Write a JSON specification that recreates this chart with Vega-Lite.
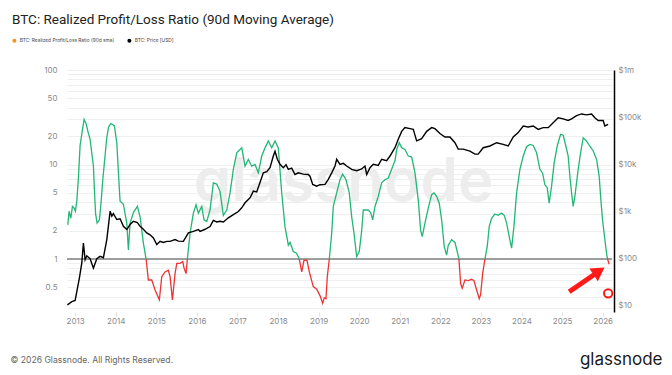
{
"$schema": "https://vega.github.io/schema/vega-lite/v6.json",
"width": 545, "height": 242,
"autosize": "none",
"padding": {"left": 67, "top": 70, "right": 60, "bottom": 63},
"background": "white",
"config": {"view": {"stroke": null}, "font": "Inter"},
"title": {"text": "BTC: Realized Profit/Loss Ratio (90d Moving Average)", "anchor": "start", "frame": "group", "dx": -55, "dy": 15, "offset": 16, "baseline": "alphabetic", "fontSize": 13.5, "fontWeight": "normal", "color": "#222222", "font": "Roboto"},
"datasets": {
"ratio": [
{"t":2012.820,"r":2.3,"seg":1,"zone":"above"},{"t":2012.852,"r":3.2,"seg":1,"zone":"above"},{"t":2012.894,"r":2.7,"seg":1,"zone":"above"},{"t":2012.934,"r":3.6,"seg":1,"zone":"above"},{"t":2012.975,"r":3.46,"seg":1,"zone":"above"},{"t":2013.007,"r":3.2,"seg":1,"zone":"above"},{"t":2013.042,"r":4.1,"seg":1,"zone":"above"},{"t":2013.081,"r":7.2,"seg":1,"zone":"above"},{"t":2013.123,"r":16,"seg":1,"zone":"above"},{"t":2013.172,"r":22,"seg":1,"zone":"above"},{"t":2013.222,"r":30,"seg":1,"zone":"above"},{"t":2013.271,"r":27,"seg":1,"zone":"above"},{"t":2013.320,"r":22,"seg":1,"zone":"above"},{"t":2013.369,"r":18.5,"seg":1,"zone":"above"},{"t":2013.451,"r":9.6,"seg":1,"zone":"above"},{"t":2013.475,"r":5.4,"seg":1,"zone":"above"},{"t":2013.505,"r":3.0,"seg":1,"zone":"above"},{"t":2013.542,"r":2.4,"seg":1,"zone":"above"},{"t":2013.599,"r":2.6,"seg":1,"zone":"above"},{"t":2013.640,"r":4.0,"seg":1,"zone":"above"},{"t":2013.682,"r":6.9,"seg":1,"zone":"above"},{"t":2013.781,"r":19.4,"seg":1,"zone":"above"},{"t":2013.825,"r":25,"seg":1,"zone":"above"},{"t":2013.879,"r":27.1,"seg":1,"zone":"above"},{"t":2013.924,"r":26.5,"seg":1,"zone":"above"},{"t":2013.968,"r":25.6,"seg":1,"zone":"above"},{"t":2014.027,"r":17,"seg":1,"zone":"above"},{"t":2014.091,"r":5.4,"seg":1,"zone":"above"},{"t":2014.108,"r":4.1,"seg":1,"zone":"above"},{"t":2014.190,"r":3.8,"seg":1,"zone":"above"},{"t":2014.273,"r":2.4,"seg":1,"zone":"above"},{"t":2014.313,"r":1.25,"seg":1,"zone":"above"},{"t":2014.355,"r":2.4,"seg":1,"zone":"above"},{"t":2014.436,"r":3.1,"seg":1,"zone":"above"},{"t":2014.534,"r":3.6,"seg":1,"zone":"above"},{"t":2014.601,"r":2.8,"seg":1,"zone":"above"},{"t":2014.682,"r":1.47,"seg":1,"zone":"above"},{"t":2014.749,"r":1.0,"seg":1,"zone":"above"},
{"t":2014.749,"r":1.0,"seg":2,"zone":"below"},{"t":2014.805,"r":0.6,"seg":2,"zone":"below"},{"t":2014.889,"r":0.6,"seg":2,"zone":"below"},{"t":2014.970,"r":0.47,"seg":2,"zone":"below"},{"t":2015.076,"r":0.37,"seg":2,"zone":"below"},{"t":2015.135,"r":0.65,"seg":2,"zone":"below"},{"t":2015.217,"r":0.73,"seg":2,"zone":"below"},{"t":2015.298,"r":0.76,"seg":2,"zone":"below"},{"t":2015.340,"r":0.65,"seg":2,"zone":"below"},{"t":2015.397,"r":0.37,"seg":2,"zone":"below"},{"t":2015.463,"r":0.7,"seg":2,"zone":"below"},{"t":2015.505,"r":0.9,"seg":2,"zone":"below"},{"t":2015.586,"r":0.9,"seg":2,"zone":"below"},{"t":2015.653,"r":0.94,"seg":2,"zone":"below"},{"t":2015.685,"r":0.8,"seg":2,"zone":"below"},{"t":2015.734,"r":0.7,"seg":2,"zone":"below"},{"t":2015.766,"r":1.0,"seg":2,"zone":"below"},
{"t":2015.766,"r":1.0,"seg":3,"zone":"above"},{"t":2015.833,"r":1.88,"seg":3,"zone":"above"},{"t":2015.914,"r":3.06,"seg":3,"zone":"above"},{"t":2015.980,"r":3.75,"seg":3,"zone":"above"},{"t":2016.037,"r":3.06,"seg":3,"zone":"above"},{"t":2016.121,"r":3.6,"seg":3,"zone":"above"},{"t":2016.177,"r":2.6,"seg":3,"zone":"above"},{"t":2016.244,"r":2.5,"seg":3,"zone":"above"},{"t":2016.325,"r":3.3,"seg":3,"zone":"above"},{"t":2016.406,"r":6.4,"seg":3,"zone":"above"},{"t":2016.490,"r":6.2,"seg":3,"zone":"above"},{"t":2016.571,"r":5.2,"seg":3,"zone":"above"},{"t":2016.653,"r":2.9,"seg":3,"zone":"above"},{"t":2016.736,"r":3.3,"seg":3,"zone":"above"},{"t":2016.818,"r":5,"seg":3,"zone":"above"},{"t":2016.899,"r":8.9,"seg":3,"zone":"above"},{"t":2016.983,"r":13.3,"seg":3,"zone":"above"},{"t":2017.106,"r":15,"seg":3,"zone":"above"},{"t":2017.187,"r":9.6,"seg":3,"zone":"above"},{"t":2017.268,"r":11.3,"seg":3,"zone":"above"},{"t":2017.352,"r":9.6,"seg":3,"zone":"above"},{"t":2017.433,"r":10,"seg":3,"zone":"above"},{"t":2017.515,"r":8.2,"seg":3,"zone":"above"},{"t":2017.599,"r":12.3,"seg":3,"zone":"above"},{"t":2017.680,"r":15,"seg":3,"zone":"above"},{"t":2017.761,"r":17.7,"seg":3,"zone":"above"},{"t":2017.845,"r":15,"seg":3,"zone":"above"},{"t":2017.926,"r":17.7,"seg":3,"zone":"above"},{"t":2018.007,"r":15,"seg":3,"zone":"above"},{"t":2018.091,"r":5,"seg":3,"zone":"above"},{"t":2018.172,"r":2.2,"seg":3,"zone":"above"},{"t":2018.254,"r":1.4,"seg":3,"zone":"above"},{"t":2018.296,"r":1.5,"seg":3,"zone":"above"},{"t":2018.377,"r":1.2,"seg":3,"zone":"above"},{"t":2018.456,"r":1.15,"seg":3,"zone":"above"},{"t":2018.525,"r":1.0,"seg":3,"zone":"above"},
{"t":2018.525,"r":1.0,"seg":4,"zone":"below"},{"t":2018.584,"r":0.73,"seg":4,"zone":"below"},{"t":2018.640,"r":0.97,"seg":4,"zone":"below"},{"t":2018.714,"r":0.97,"seg":4,"zone":"below"},{"t":2018.771,"r":0.73,"seg":4,"zone":"below"},{"t":2018.869,"r":0.51,"seg":4,"zone":"below"},{"t":2018.953,"r":0.48,"seg":4,"zone":"below"},{"t":2019.034,"r":0.41,"seg":4,"zone":"below"},{"t":2019.101,"r":0.34,"seg":4,"zone":"below"},{"t":2019.140,"r":0.39,"seg":4,"zone":"below"},{"t":2019.182,"r":0.38,"seg":4,"zone":"below"},{"t":2019.214,"r":0.65,"seg":4,"zone":"below"},{"t":2019.264,"r":1.0,"seg":4,"zone":"below"},
{"t":2019.264,"r":1.0,"seg":5,"zone":"above"},{"t":2019.323,"r":1.88,"seg":5,"zone":"above"},{"t":2019.362,"r":3.6,"seg":5,"zone":"above"},{"t":2019.446,"r":5,"seg":5,"zone":"above"},{"t":2019.527,"r":6.9,"seg":5,"zone":"above"},{"t":2019.594,"r":7.9,"seg":5,"zone":"above"},{"t":2019.675,"r":6.9,"seg":5,"zone":"above"},{"t":2019.756,"r":5,"seg":5,"zone":"above"},{"t":2019.815,"r":2.8,"seg":5,"zone":"above"},{"t":2019.872,"r":1.88,"seg":5,"zone":"above"},{"t":2019.938,"r":1.06,"seg":5,"zone":"above"},{"t":2020.002,"r":1.2,"seg":5,"zone":"above"},{"t":2020.062,"r":2.0,"seg":5,"zone":"above"},{"t":2020.101,"r":3.3,"seg":5,"zone":"above"},{"t":2020.224,"r":3.3,"seg":5,"zone":"above"},{"t":2020.283,"r":3.1,"seg":5,"zone":"above"},{"t":2020.333,"r":2.6,"seg":5,"zone":"above"},{"t":2020.389,"r":3.6,"seg":5,"zone":"above"},{"t":2020.470,"r":4.6,"seg":5,"zone":"above"},{"t":2020.554,"r":6.4,"seg":5,"zone":"above"},{"t":2020.635,"r":6.9,"seg":5,"zone":"above"},{"t":2020.717,"r":7.2,"seg":5,"zone":"above"},{"t":2020.800,"r":8.9,"seg":5,"zone":"above"},{"t":2020.882,"r":11,"seg":5,"zone":"above"},{"t":2020.924,"r":14.4,"seg":5,"zone":"above"},{"t":2020.988,"r":17,"seg":5,"zone":"above"},{"t":2021.047,"r":15,"seg":5,"zone":"above"},{"t":2021.128,"r":14.4,"seg":5,"zone":"above"},{"t":2021.209,"r":12.3,"seg":5,"zone":"above"},{"t":2021.293,"r":12,"seg":5,"zone":"above"},{"t":2021.374,"r":8.2,"seg":5,"zone":"above"},{"t":2021.456,"r":4.2,"seg":5,"zone":"above"},{"t":2021.515,"r":2.0,"seg":5,"zone":"above"},{"t":2021.554,"r":1.73,"seg":5,"zone":"above"},{"t":2021.621,"r":2.4,"seg":5,"zone":"above"},{"t":2021.702,"r":3.46,"seg":5,"zone":"above"},{"t":2021.786,"r":4.8,"seg":5,"zone":"above"},{"t":2021.842,"r":5.0,"seg":5,"zone":"above"},{"t":2021.909,"r":4.6,"seg":5,"zone":"above"},{"t":2021.973,"r":3.9,"seg":5,"zone":"above"},{"t":2022.032,"r":2.6,"seg":5,"zone":"above"},{"t":2022.096,"r":1.35,"seg":5,"zone":"above"},{"t":2022.155,"r":1.1,"seg":5,"zone":"above"},{"t":2022.195,"r":1.4,"seg":5,"zone":"above"},{"t":2022.278,"r":1.6,"seg":5,"zone":"above"},{"t":2022.360,"r":1.5,"seg":5,"zone":"above"},{"t":2022.426,"r":1.15,"seg":5,"zone":"above"},{"t":2022.458,"r":1.0,"seg":5,"zone":"above"},
{"t":2022.458,"r":1.0,"seg":6,"zone":"below"},{"t":2022.500,"r":0.55,"seg":6,"zone":"below"},{"t":2022.539,"r":0.49,"seg":6,"zone":"below"},{"t":2022.606,"r":0.6,"seg":6,"zone":"below"},{"t":2022.687,"r":0.59,"seg":6,"zone":"below"},{"t":2022.771,"r":0.61,"seg":6,"zone":"below"},{"t":2022.828,"r":0.59,"seg":6,"zone":"below"},{"t":2022.894,"r":0.47,"seg":6,"zone":"below"},{"t":2022.958,"r":0.38,"seg":6,"zone":"below"},{"t":2022.993,"r":0.42,"seg":6,"zone":"below"},{"t":2023.042,"r":0.7,"seg":6,"zone":"below"},{"t":2023.099,"r":1.0,"seg":6,"zone":"below"},
{"t":2023.099,"r":1.0,"seg":7,"zone":"above"},{"t":2023.155,"r":1.35,"seg":7,"zone":"above"},{"t":2023.204,"r":2.2,"seg":7,"zone":"above"},{"t":2023.264,"r":2.7,"seg":7,"zone":"above"},{"t":2023.345,"r":3.0,"seg":7,"zone":"above"},{"t":2023.426,"r":2.9,"seg":7,"zone":"above"},{"t":2023.510,"r":3.06,"seg":7,"zone":"above"},{"t":2023.574,"r":2.9,"seg":7,"zone":"above"},{"t":2023.633,"r":2.4,"seg":7,"zone":"above"},{"t":2023.697,"r":1.73,"seg":7,"zone":"above"},{"t":2023.756,"r":1.3,"seg":7,"zone":"above"},{"t":2023.813,"r":2.2,"seg":7,"zone":"above"},{"t":2023.879,"r":5,"seg":7,"zone":"above"},{"t":2023.961,"r":8.9,"seg":7,"zone":"above"},{"t":2024.042,"r":12.3,"seg":7,"zone":"above"},{"t":2024.125,"r":15.4,"seg":7,"zone":"above"},{"t":2024.207,"r":16.3,"seg":7,"zone":"above"},{"t":2024.288,"r":15.9,"seg":7,"zone":"above"},{"t":2024.372,"r":13.3,"seg":7,"zone":"above"},{"t":2024.453,"r":8.9,"seg":7,"zone":"above"},{"t":2024.520,"r":8.1,"seg":7,"zone":"above"},{"t":2024.576,"r":6.1,"seg":7,"zone":"above"},{"t":2024.633,"r":5.7,"seg":7,"zone":"above"},{"t":2024.682,"r":3.9,"seg":7,"zone":"above"},{"t":2024.741,"r":5.9,"seg":7,"zone":"above"},{"t":2024.805,"r":10.4,"seg":7,"zone":"above"},{"t":2024.879,"r":15.6,"seg":7,"zone":"above"},{"t":2024.963,"r":20.9,"seg":7,"zone":"above"},{"t":2025.027,"r":20.4,"seg":7,"zone":"above"},{"t":2025.094,"r":15.6,"seg":7,"zone":"above"},{"t":2025.150,"r":12.3,"seg":7,"zone":"above"},{"t":2025.192,"r":7.5,"seg":7,"zone":"above"},{"t":2025.234,"r":5,"seg":7,"zone":"above"},{"t":2025.273,"r":3.6,"seg":7,"zone":"above"},{"t":2025.315,"r":4.6,"seg":7,"zone":"above"},{"t":2025.397,"r":8.9,"seg":7,"zone":"above"},{"t":2025.456,"r":13.3,"seg":7,"zone":"above"},{"t":2025.520,"r":19.2,"seg":7,"zone":"above"},{"t":2025.603,"r":17.7,"seg":7,"zone":"above"},{"t":2025.685,"r":15.6,"seg":7,"zone":"above"},{"t":2025.766,"r":14.0,"seg":7,"zone":"above"},{"t":2025.850,"r":11.3,"seg":7,"zone":"above"},{"t":2025.914,"r":7.5,"seg":7,"zone":"above"},{"t":2025.956,"r":4.2,"seg":7,"zone":"above"},{"t":2025.997,"r":2.6,"seg":7,"zone":"above"},{"t":2026.054,"r":1.6,"seg":7,"zone":"above"},{"t":2026.096,"r":1.15,"seg":7,"zone":"above"},{"t":2026.121,"r":1.0,"seg":7,"zone":"above"},
{"t":2026.121,"r":1.0,"seg":8,"zone":"below"},{"t":2026.160,"r":0.88,"seg":8,"zone":"below"}
],
"price": [
{"t":2012.810,"p":10.5},{"t":2012.919,"p":12.3},{"t":2013.000,"p":13},{"t":2013.042,"p":20},{"t":2013.106,"p":39},{"t":2013.165,"p":81},{"t":2013.204,"p":215},{"t":2013.246,"p":95},{"t":2013.288,"p":115},{"t":2013.369,"p":100},{"t":2013.451,"p":63},{"t":2013.534,"p":100},{"t":2013.616,"p":112},{"t":2013.697,"p":105},{"t":2013.781,"p":254},{"t":2013.862,"p":1010},{"t":2013.904,"p":800},{"t":2013.943,"p":900},{"t":2014.027,"p":675},{"t":2014.108,"p":700},{"t":2014.190,"p":485},{"t":2014.273,"p":415},{"t":2014.355,"p":530},{"t":2014.436,"p":620},{"t":2014.534,"p":580},{"t":2014.601,"p":485},{"t":2014.682,"p":420},{"t":2014.766,"p":352},{"t":2014.847,"p":320},{"t":2014.929,"p":275},{"t":2015.012,"p":199},{"t":2015.094,"p":233},{"t":2015.175,"p":220},{"t":2015.259,"p":233},{"t":2015.340,"p":233},{"t":2015.463,"p":254},{"t":2015.544,"p":235},{"t":2015.667,"p":233},{"t":2015.791,"p":352},{"t":2015.914,"p":380},{"t":2016.037,"p":415},{"t":2016.079,"p":380},{"t":2016.202,"p":420},{"t":2016.325,"p":480},{"t":2016.406,"p":650},{"t":2016.490,"p":600},{"t":2016.571,"p":620},{"t":2016.653,"p":600},{"t":2016.776,"p":735},{"t":2016.899,"p":860},{"t":2017.022,"p":1000},{"t":2017.106,"p":1200},{"t":2017.187,"p":1530},{"t":2017.310,"p":1950},{"t":2017.392,"p":2700},{"t":2017.475,"p":2600},{"t":2017.539,"p":3750},{"t":2017.638,"p":6600},{"t":2017.722,"p":7000},{"t":2017.803,"p":8500},{"t":2017.884,"p":15000},{"t":2017.926,"p":19000},{"t":2017.983,"p":12800},{"t":2018.049,"p":10000},{"t":2018.131,"p":8500},{"t":2018.197,"p":9800},{"t":2018.254,"p":7800},{"t":2018.337,"p":8300},{"t":2018.419,"p":6100},{"t":2018.500,"p":6600},{"t":2018.623,"p":6200},{"t":2018.746,"p":6100},{"t":2018.788,"p":5600},{"t":2018.855,"p":3750},{"t":2018.953,"p":3450},{"t":2019.034,"p":3700},{"t":2019.158,"p":3750},{"t":2019.239,"p":4800},{"t":2019.323,"p":6600},{"t":2019.404,"p":9200},{"t":2019.446,"p":12800},{"t":2019.527,"p":10000},{"t":2019.608,"p":10500},{"t":2019.692,"p":9200},{"t":2019.815,"p":7800},{"t":2019.938,"p":7300},{"t":2020.062,"p":8000},{"t":2020.143,"p":9200},{"t":2020.185,"p":6100},{"t":2020.266,"p":8500},{"t":2020.347,"p":10000},{"t":2020.470,"p":9500},{"t":2020.554,"p":12800},{"t":2020.677,"p":12000},{"t":2020.759,"p":15000},{"t":2020.882,"p":22500},{"t":2020.963,"p":34000},{"t":2021.047,"p":50000},{"t":2021.128,"p":60000},{"t":2021.251,"p":57000},{"t":2021.333,"p":55000},{"t":2021.416,"p":31500},{"t":2021.539,"p":35000},{"t":2021.663,"p":50000},{"t":2021.786,"p":60000},{"t":2021.867,"p":57000},{"t":2021.990,"p":45000},{"t":2022.113,"p":38000},{"t":2022.236,"p":38000},{"t":2022.360,"p":28700},{"t":2022.441,"p":21000},{"t":2022.564,"p":21000},{"t":2022.729,"p":19000},{"t":2022.852,"p":16500},{"t":2022.933,"p":16500},{"t":2023.057,"p":22500},{"t":2023.222,"p":24500},{"t":2023.387,"p":28700},{"t":2023.549,"p":26500},{"t":2023.672,"p":24500},{"t":2023.796,"p":38000},{"t":2023.919,"p":47000},{"t":2024.042,"p":65000},{"t":2024.165,"p":62000},{"t":2024.288,"p":65000},{"t":2024.411,"p":55000},{"t":2024.534,"p":60000},{"t":2024.658,"p":60000},{"t":2024.781,"p":76000},{"t":2024.904,"p":97000},{"t":2025.027,"p":92000},{"t":2025.150,"p":85000},{"t":2025.234,"p":92000},{"t":2025.357,"p":108000},{"t":2025.480,"p":117000},{"t":2025.603,"p":112000},{"t":2025.726,"p":117000},{"t":2025.808,"p":97000},{"t":2025.889,"p":85000},{"t":2026.012,"p":85000},{"t":2026.054,"p":65000},{"t":2026.135,"p":70000}
],
"arrow": [{"t":2025.175,"r":0.451,"t2":2025.911,"r2":0.743}],
"circle": [{"t":2026.135,"r":0.433}]
},
"layer": [
{"layer": [
 {"data": {"values": [{}]}, "mark": {"type": "rule", "color": "#7f7f7f", "strokeWidth": 1.5}, "encoding": {"y": {"datum": 1, "type": "quantitative"}}},
 {"data": {"name": "ratio"}, "mark": {"type": "line", "strokeWidth": 1.3},
  "encoding": {
   "x": {"field": "t", "type": "quantitative", "scale": {"domain": [2012.8, 2026.23], "nice": false, "zero": false},
     "axis": {"values": [2013,2014,2015,2016,2017,2018,2019,2020,2021,2022,2023,2024,2025,2026], "format": "d", "grid": false, "domain": false, "ticks": true, "tickColor": "#e3e3e3", "tickSize": 4, "labelColor": "#8a8a8a", "labelFontSize": 8, "labelFont": "Inter", "labelPadding": 1,
       "title": "© 2026 Glassnode. All Rights Reserved.", "titleX": -57, "titleY": 47, "titleAlign": "left", "titleAnchor": "start", "titleBaseline": "middle", "titleFontSize": 8.6, "titleColor": "#666666", "titleFontWeight": "normal", "titleFont": "Inter"}},
   "y": {"field": "r", "type": "quantitative", "scale": {"type": "log", "domain": [0.275, 100], "nice": false},
     "axis": {"orient": "left", "values": [0.3,0.4,0.5,0.6,0.7,0.8,0.9,1,2,3,4,5,6,7,8,9,10,20,30,40,50,60,70,80,90,100],
       "labelExpr": "indexof([0.5,1,2,5,10,20,50,100], datum.value) >= 0 ? '' + datum.value : ''",
       "labelOverlap": false, "labelBound": false, "labelFlush": false, "grid": true, "gridColor": "#efefef", "gridWidth": 1, "ticks": false, "domain": false, "labelPadding": 10, "labelColor": "#8a8a8a", "labelFontSize": 8, "labelFont": "Inter",
       "title": "glassnode", "titleX": 276, "titleY": 112, "titleAngle": 0, "titleAlign": "center", "titleAnchor": "start", "titleBaseline": "middle", "titleFontSize": 60, "titleColor": "#ededed", "titleFontWeight": 600, "titleFont": "Inter"}},
   "color": {"field": "zone", "type": "nominal",
     "scale": {"domain": ["BTC: Realized Profit/Loss Ratio (90d sma)", "BTC: Price [USD]", "above", "below"], "range": ["#f7931a", "#000000", "#22b677", "#ee3333"]},
     "legend": {"title": null, "orient": "none", "legendX": -55, "legendY": -32, "direction": "horizontal", "values": ["BTC: Realized Profit/Loss Ratio (90d sma)", "BTC: Price [USD]"], "symbolType": "circle", "symbolSize": 16, "symbolStrokeWidth": 0, "labelFontSize": 4.8, "labelColor": "#444444", "labelFont": "Inter", "columnPadding": 12, "labelOffset": 3,
       "encode": {"symbols": {"update": {"fill": {"scale": "color", "field": "value"}, "stroke": {"value": "transparent"}}}}}},
   "detail": {"field": "seg", "type": "nominal"}
  }},
 {"data": {"name": "arrow"}, "mark": {"type": "rule", "color": "#ff1a1a", "strokeWidth": 5},
  "encoding": {"x": {"field": "t", "type": "quantitative"}, "y": {"field": "r", "type": "quantitative"}, "x2": {"field": "t2"}, "y2": {"field": "r2"}}},
 {"data": {"name": "arrow"}, "mark": {"type": "point", "shape": "triangle-up", "filled": true, "color": "#ff1a1a", "size": 230, "angle": 56, "opacity": 1},
  "encoding": {"x": {"field": "t2", "type": "quantitative"}, "y": {"field": "r2", "type": "quantitative"}}},
 {"data": {"name": "circle"}, "mark": {"type": "point", "shape": "circle", "filled": false, "color": "#ff1a1a", "size": 70, "strokeWidth": 2, "opacity": 1},
  "encoding": {"x": {"field": "t", "type": "quantitative"}, "y": {"field": "r", "type": "quantitative"}}}
]},
{"data": {"name": "price"}, "mark": {"type": "line", "strokeWidth": 1.4},
 "encoding": {
  "x": {"field": "t", "type": "quantitative"},
  "y": {"field": "p", "type": "quantitative", "scale": {"type": "log", "domain": [7.4, 1000000], "nice": false},
    "axis": {"orient": "right", "values": [10,100,1000,10000,100000,1000000],
      "labelExpr": "datum.value >= 1000000 ? '$1m' : datum.value >= 1000 ? '$' + (datum.value/1000) + 'k' : '$' + datum.value",
      "labelOverlap": false, "labelBound": false, "labelFlush": false, "grid": false, "ticks": false, "domain": true, "domainColor": "#000000", "domainWidth": 1.5, "offset": 2, "labelPadding": 4, "labelColor": "#8a8a8a", "labelFontSize": 8, "labelFont": "Inter",
      "title": "glassnode", "titleX": 48, "titleY": 289, "titleAngle": 0, "titleAlign": "right", "titleAnchor": "start", "titleBaseline": "middle", "titleFontSize": 17, "titleColor": "#1a1a1a", "titleFontWeight": "normal", "titleFont": "Inter"}},
  "color": {"datum": "BTC: Price [USD]", "type": "nominal"}
 }}
],
"resolve": {"scale": {"y": "independent"}}
}
